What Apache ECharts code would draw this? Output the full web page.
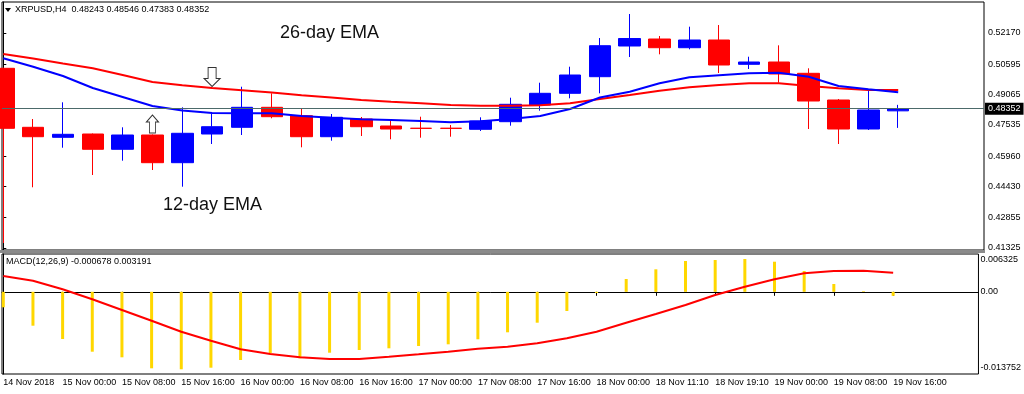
<!DOCTYPE html>
<html><head><meta charset="utf-8">
<script src="https://cdn.jsdelivr.net/npm/echarts@6/dist/echarts.min.js"></script>
<style>html,body{margin:0;padding:0;background:#fff}#c{width:1024px;height:394px}</style>
</head><body><div id="c"></div>
<script>
// ---- data ----
const symbolName = 'XRPUSD,H4';
const opens  = [0.50389,0.47413,0.46909,0.47075,0.46304,0.47025,0.45628,0.47075,0.47413,0.48422,0.47998,0.46939,0.47832,0.47479,0.47365,0.47365,0.47312,0.47696,0.48538,0.49128,0.49966,0.51514,0.51867,0.51428,0.51817,0.50591,0.50707,0.50137,0.48790,0.47327,0.48243];
const closes = [0.47363,0.46939,0.47060,0.46304,0.47025,0.45628,0.47111,0.47443,0.48422,0.47948,0.46939,0.47918,0.47443,0.47327,0.47360,0.47360,0.47731,0.48573,0.49128,0.50051,0.51529,0.51892,0.51428,0.51817,0.50556,0.50707,0.50102,0.48740,0.47327,0.48286,0.48352];
const lows   = [0.41577,0.44387,0.46384,0.45007,0.45729,0.45259,0.44417,0.46571,0.47025,0.47867,0.46404,0.46737,0.46974,0.46808,0.46889,0.46939,0.47227,0.47494,0.48251,0.48876,0.49128,0.50959,0.51095,0.51348,0.50152,0.50354,0.49663,0.47327,0.46571,0.47277,0.47383];
const highs  = [0.50420,0.47832,0.48674,0.47100,0.47413,0.47050,0.48422,0.48119,0.49461,0.49128,0.48372,0.48084,0.47933,0.47781,0.47948,0.47529,0.47918,0.48906,0.49663,0.50470,0.51918,0.53128,0.52018,0.52488,0.52573,0.50974,0.51549,0.50389,0.48841,0.49295,0.48546];
const ema12  = [0.50894,0.50470,0.50001,0.49396,0.48942,0.48488,0.48261,0.48135,0.48119,0.48119,0.47983,0.47898,0.47817,0.47781,0.47731,0.47665,0.47716,0.47832,0.47983,0.48336,0.48916,0.49209,0.49633,0.49935,0.50036,0.50137,0.50167,0.49966,0.49496,0.49330,0.49179];
const ema26  = [0.51111,0.50884,0.50631,0.50389,0.50051,0.49698,0.49532,0.49396,0.49280,0.49169,0.49027,0.48916,0.48790,0.48705,0.48624,0.48538,0.48503,0.48503,0.48523,0.48624,0.48841,0.49042,0.49259,0.49431,0.49547,0.49633,0.49633,0.49496,0.49380,0.49295,0.49295];
const macdMain   = [-0.002593,-0.005672,-0.007897,-0.010022,-0.010959,-0.012799,-0.012966,-0.012699,-0.011410,-0.010289,-0.011126,-0.010189,-0.009737,-0.009453,-0.009068,-0.008784,-0.007947,-0.006776,-0.005170,-0.003212,-0.000200,0.002142,0.003764,0.005153,0.005320,0.005488,0.005036,0.003480,0.001305,0.000100,-0.000678];
const macdSignal = [0.002643,0.001857,0.000418,-0.001255,-0.003045,-0.004835,-0.006676,-0.008181,-0.009620,-0.010407,-0.010959,-0.011243,-0.011243,-0.010858,-0.010457,-0.010022,-0.009520,-0.009185,-0.008616,-0.007780,-0.006676,-0.005170,-0.003714,-0.002208,-0.000535,0.000853,0.002091,0.003095,0.003480,0.003530,0.003191];
const timeLabels = ['14 Nov 2018','15 Nov 00:00','15 Nov 08:00','15 Nov 16:00','16 Nov 00:00','16 Nov 08:00','16 Nov 16:00','17 Nov 00:00','17 Nov 08:00','17 Nov 16:00','18 Nov 00:00','18 Nov 11:10','18 Nov 19:10','19 Nov 00:00','19 Nov 08:00','19 Nov 16:00'];
const priceTicks = [0.41325,0.42855,0.44430,0.45960,0.47535,0.49065,0.50595,0.52170];
const macdTicks = [0.006325,0,-0.013752];
const macdTickLabels = ['0.006325','0.00','-0.013752'];
const lastPrice = 0.48352;
const arrowsUp = [[5,0.47580]];
const arrowsDown = [[7,0.49950]];
const annotations = ['26-day EMA','12-day EMA'];

// ---- chart ----
const N = opens.length;
const idx = opens.map((_, i) => i);
const candleData = idx.map(i => [i, opens[i], closes[i], lows[i], highs[i]]);
const labelIdx = timeLabels.map((_, k) => k * 2);
const font = '"Liberation Sans", Arial, sans-serif';
const xMin = -0.0436, xMax = 32.876;
const yMin = 0.41224, yMax = 0.53734;
const f5 = v => v.toFixed(5);

const chart = echarts.init(document.getElementById('c'), null, {renderer: 'canvas'});
chart.setOption({
  animation: false,
  backgroundColor: '#fff',
  textStyle: {fontFamily: font},
  grid: [
    {left: 2, top: 2, width: 982, height: 248, show: true, borderColor: '#000', borderWidth: 1, backgroundColor: 'transparent'},
    {left: 2, top: 254, width: 982, height: 120, show: true, borderColor: '#000', borderWidth: 1, backgroundColor: 'transparent'}
  ],
  xAxis: [
    {type: 'value', gridIndex: 0, min: xMin, max: xMax, axisLine: {show: false}, axisTick: {show: false}, axisLabel: {show: false}, splitLine: {show: false}},
    {type: 'value', gridIndex: 1, min: xMin, max: xMax, position: 'bottom',
     axisLine: {show: true, lineStyle: {color: '#000', width: 1}},
     axisTick: {show: true, customValues: labelIdx, length: 4, lineStyle: {color: '#000'}},
     axisLabel: {customValues: labelIdx, formatter: v => timeLabels[Math.round(v / 2)] || '', align: 'left', margin: 4, fontSize: 9, color: '#000', fontFamily: font},
     splitLine: {show: false}}
  ],
  yAxis: [
    {type: 'value', gridIndex: 0, position: 'right', min: yMin, max: yMax,
     axisLine: {show: true, lineStyle: {color: '#000'}},
     axisTick: {show: true, customValues: priceTicks, length: 3, lineStyle: {color: '#000'}},
     axisLabel: {customValues: priceTicks, formatter: f5, fontSize: 9, color: '#000', margin: 4, fontFamily: font},
     splitLine: {show: false}},
    {type: 'value', gridIndex: 1, position: 'right', min: macdTicks[2], max: macdTicks[0],
     axisLine: {show: true, lineStyle: {color: '#000'}},
     axisTick: {show: true, customValues: [macdTicks[1]], length: 3, lineStyle: {color: '#000'}},
     axisLabel: {customValues: macdTicks, fontSize: 9, color: '#000', margin: 2, fontFamily: font,
       formatter: v => {
         const k = macdTicks.findIndex(t => Math.abs(t - v) < 1e-9);
         const s = macdTickLabels[k];
         return k === 0 ? '{t|' + s + '}' : k === 2 ? '{b|' + s + '}' : s;
       },
       rich: {t: {padding: [12, 0, 0, 0], fontSize: 9, color: '#000', fontFamily: font},
              b: {padding: [0, 0, 12, 0], fontSize: 9, color: '#000', fontFamily: font}}},
     splitLine: {show: false}}
  ],
  series: [
    {type: 'candlestick', xAxisIndex: 0, yAxisIndex: 0, data: candleData, barWidth: 22,
     encode: {x: 0, y: [1, 2, 3, 4]},
     itemStyle: {color: '#0000ff', color0: '#ff0000', borderColor: '#0000ff', borderColor0: '#ff0000', borderWidth: 1}},
    {type: 'line', xAxisIndex: 0, yAxisIndex: 0, data: idx.map(i => [i, ema26[i]]), showSymbol: false, symbol: 'none',
     lineStyle: {color: '#ff0000', width: 2}},
    {type: 'line', xAxisIndex: 0, yAxisIndex: 0, data: idx.map(i => [i, ema12[i]]), showSymbol: false, symbol: 'none',
     lineStyle: {color: '#0000ff', width: 2},
     markLine: {silent: true, symbol: 'none', animation: false, precision: 5,
       lineStyle: {color: '#4c6a6a', width: 1, type: 'solid'},
       label: {show: true, position: 'end', formatter: f5(lastPrice), backgroundColor: '#000', color: '#fff', fontSize: 9, padding: [2, 3, 1, 3], distance: 1, fontFamily: font},
       data: [{yAxis: lastPrice}]}},
    {type: 'scatter', xAxisIndex: 0, yAxisIndex: 0, data: arrowsUp,
     symbol: 'path://M6,0L12,7L9,7L9,18L3,18L3,7L0,7Z', symbolSize: [12, 18],
     itemStyle: {color: '#fff', borderColor: '#000', borderWidth: 1}},
    {type: 'scatter', xAxisIndex: 0, yAxisIndex: 0, data: arrowsDown,
     symbol: 'path://M4,0L12,0L12,11L16,11L8,19L0,11L4,11Z', symbolSize: [16, 19],
     itemStyle: {color: '#fff', borderColor: '#000', borderWidth: 1}},
    {type: 'bar', xAxisIndex: 1, yAxisIndex: 1, data: idx.map(i => [i, macdMain[i]]), barWidth: 3,
     itemStyle: {color: '#ffd700'}},
    {type: 'line', xAxisIndex: 1, yAxisIndex: 1, data: idx.map(i => [i, macdSignal[i]]), showSymbol: false, symbol: 'none',
     lineStyle: {color: '#ff0000', width: 2}}
  ],
  graphic: [
    {type: 'rect', shape: {x: 0, y: 250, width: 985, height: 3}, style: {fill: '#8a8a8a'}, z: 10},
    {type: 'polygon', shape: {points: [[5, 8], [11, 8], [8, 12]]}, style: {fill: '#000'}, z: 10},
    {type: 'text', left: 15, top: 5, z: 10,
     style: {text: symbolName + '  ' + [opens[N-1], highs[N-1], lows[N-1], closes[N-1]].map(f5).join(' '), font: '9px ' + font, fill: '#000'}},
    {type: 'text', left: 6, top: 257, z: 10,
     style: {text: 'MACD(12,26,9) ' + macdMain[N-1].toFixed(6) + ' ' + macdSignal[N-1].toFixed(6), font: '9px ' + font, fill: '#000'}},
    {type: 'text', left: 280, top: 24, z: 10, style: {text: annotations[0], font: '18px ' + font, fill: '#111'}},
    {type: 'text', left: 163, top: 196, z: 10, style: {text: annotations[1], font: '18px ' + font, fill: '#111'}}
  ]
});
</script></body></html>
